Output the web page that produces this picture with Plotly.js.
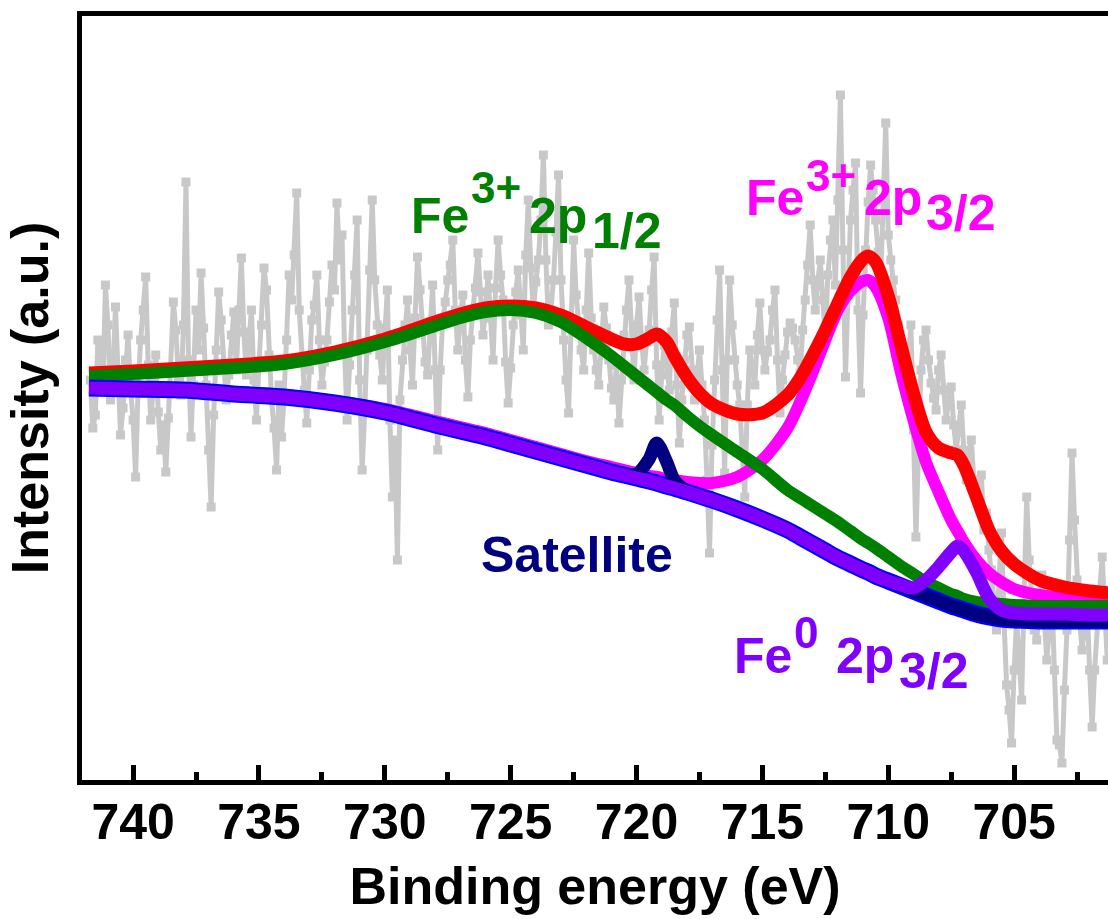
<!DOCTYPE html>
<html><head><meta charset="utf-8">
<script src="https://cdn.plot.ly/plotly-3.0.1.min.js"></script>
<style>html,body{margin:0;padding:0;background:#fff;} #chart{width:1108px;height:919px;}</style>
</head><body><div id="chart"></div>
<script>
// Raw XPS spectrum (Fe 2p), uniformly sampled every 0.1 eV, arbitrary intensity units
const rawStart = 741.7;
const rawStep = -0.1;
const rawIntensity = [
 400,352,365,440,430,388,495,455,380,410,473,398,345,372,420,445,390,360,303,395,
 440,470,503,415,360,392,425,368,330,355,308,362,410,478,450,402,385,455,598,420,
 343,395,470,430,507,452,395,330,273,365,430,488,460,412,380,405,445,468,410,470,
 522,448,405,438,470,400,360,415,455,512,490,425,380,352,310,395,343,385,440,505,
 480,525,587,470,420,390,357,410,460,475,505,440,395,418,440,478,515,490,577,520,
 545,430,360,415,470,505,560,400,310,368,430,510,580,500,455,425,400,452,490,360,
 283,340,220,380,420,455,480,430,395,462,523,490,450,418,405,458,495,410,330,410,
 460,478,500,515,540,470,430,462,485,420,383,440,470,492,527,488,445,470,505,462,
 420,492,540,505,480,418,377,412,455,488,510,465,430,525,580,512,470,498,520,560,
 625,520,455,470,500,548,605,500,440,400,367,458,540,485,450,430,410,470,527,462,
 430,410,395,440,473,452,420,392,380,415,357,400,445,470,500,438,400,455,483,440,
 410,438,450,490,523,415,360,405,435,420,390,448,477,395,337,380,420,445,453,410,
 380,402,430,395,360,300,227,335,400,460,510,410,307,420,500,455,420,395,375,330,
 283,375,430,410,395,445,477,430,410,428,440,470,490,420,367,400,425,448,457,452,
 440,420,407,450,480,515,555,500,470,498,520,480,445,505,540,560,495,580,685,530,
 403,485,560,590,617,470,387,465,530,578,615,590,560,528,500,580,657,545,520,500,
 480,455,430,405,390,420,455,350,243,330,410,440,450,420,397,382,370,410,425,390,
 360,380,393,355,330,352,375,330,300,322,340,300,280,292,305,250,267,230,210,180,
 150,200,247,160,95,70,37,110,160,120,80,190,283,220,175,150,140,170,205,160,
 120,150,185,110,40,35,17,90,150,240,327,260,200,160,130,150,175,110,53,110,
 160,190,223,170,120
];

// Fitted components (binding energy in eV)
const fitEnergy = [741.75,740,738,736,734,732,730,728,727,726,725,724,723,722,721,720.5,720,719.5,719.2,718.8,718.5,718,717.5,717,716,715,714,713.5,713,712.5,712,711.5,711,710.8,710.5,710,709.5,709,708.5,708,707.5,707.25,707,706.5,706,705.5,705,704,703,702,701.2];
const envelopeFit = [407,409,412,415,419,428,441,458,466,472,474,472,465,453,441,436,436,442,446,438,424,403,387,376,366,367,385,402,425,450,477,503,521,524,518,484,435,387,348,332,327,325,315,283,250,229,216,200,193,189,187];
const fe3p12Fit = [404,406,409,412,416,425,438,454,462,468,470,467,458,442,424,414,404,394,388,380,375,364,354,345,328,311,290,282,274,266,258,249,240,237,232,223,214,206,198,192,186,184,181,178,177,176,175,174,174,174,174];
const fe3p32Fit = [393,392,391,388,385,379,371,359,353,347,340,333,326,319,313,310,307,304,303,301,300,298,297,297,303,320,352,378,408,440,470,489,499,500,493,462,408,360,318,288,260,249,238,220,207,198,191,185,182,181,180];
const satelliteFit = [392,391,390,386,383,377,368,355,349,343,336,329,322,315,308,305,306,321,337,318,300,289,284,280,271,261,250,243,236,229,222,216,210,208,204,199,194,189,184,179,174,172,170,166,163,161,160,159,159,159,159];
const fe0p32Fit = [392,391,390,386,383,377,368,355,349,343,336,329,322,315,308,305,302,299,297,294,292,288,284,280,271,261,250,243,236,229,222,216,210,208,204,199,195,192,200,213,228,234,229,208,182,170,167,166,166,165,165];
const backgroundFit = [392,391,390,386,383,377,368,355,349,343,336,329,322,315,308,305,302,299,297,294,292,288,284,280,271,261,250,243,236,229,222,216,210,208,204,199,194,189,184,179,174,172,170,166,163,161,160,159,159,159,159];

const xTickLabels = ['740','735','730','725','720','715','710','705'];
const xTickValues = [740,735,730,725,720,715,710,705];

const FONT = 'Liberation Sans, Arial, Helvetica, sans-serif';

function fitTrace(y, color, width) {
  return {x: fitEnergy, y: y, type: 'scatter', mode: 'lines',
    line: {color: color, width: width, shape: 'spline', smoothing: 0.8},
    hoverinfo: 'skip', showlegend: false};
}

const traces = [
  {x0: rawStart, dx: rawStep, y: rawIntensity, type: 'scatter', mode: 'lines+markers',
   line: {color: '#c8c8c8', width: 5},
   marker: {symbol: 'square', size: 9, color: '#c8c8c8'},
   hoverinfo: 'skip', showlegend: false},
  fitTrace(fe3p32Fit, '#ff00ff', 12),
  fitTrace(envelopeFit, '#ff0000', 13),
  fitTrace(fe3p12Fit, '#008000', 12),
  fitTrace(backgroundFit, '#0000ff', 17),
  fitTrace(satelliteFit, '#000080', 13),
  fitTrace(fe0p32Fit, '#8000ff', 13)
];

function lab(text, x, y, size, color) {
  return {text: text, x: x, y: y, xref: 'x', yref: 'y', xanchor: 'left', yanchor: 'middle',
    showarrow: false, font: {family: FONT, size: size, color: color, weight: 'bold'}};
}

const annotations = [
  lab('Fe', 729.04, 564, 50, '#008000'),
  lab('3+', 726.65, 593, 44, '#008000'),
  lab('2p', 724.35, 564, 50, '#008000'),
  lab('1/2', 721.85, 549, 50, '#008000'),
  lab('Fe', 715.73, 582, 50, '#ff00ff'),
  lab('3+', 713.34, 605, 44, '#ff00ff'),
  lab('2p', 711.04, 582, 50, '#ff00ff'),
  lab('3/2', 708.58, 567, 50, '#ff00ff'),
  lab('Satellite', 726.26, 225, 50, '#000080'),
  lab('Fe', 716.21, 124, 50, '#8000ff'),
  lab('0', 713.82, 148, 44, '#8000ff'),
  lab('2p', 712.15, 124, 50, '#8000ff'),
  lab('3/2', 709.65, 109, 50, '#8000ff')
];

const layout = {
  width: 1108, height: 919,
  margin: {l: 82, r: 0, t: 16, b: 139},
  paper_bgcolor: '#ffffff', plot_bgcolor: '#ffffff',
  font: {family: FONT, color: '#000'},
  xaxis: {
    range: [742.03, 701.27],
    tickmode: 'array', tickvals: xTickValues, ticktext: xTickLabels,
    ticks: 'inside', ticklen: 15, tickwidth: 5, tickcolor: '#000',
    ticklabelstandoff: -6,
    minor: {ticks: 'inside', ticklen: 8, tickwidth: 5, tickcolor: '#000', tickmode: 'linear', tick0: 702.5, dtick: 5},
    showline: true, linewidth: 5, linecolor: '#000', mirror: true,
    showgrid: false, zeroline: false,
    tickfont: {family: FONT, size: 50, color: '#000', weight: 'bold'},
    title: {text: 'Binding energy (eV)', font: {family: FONT, size: 52, color: '#000', weight: 'bold'}, standoff: 20}
  },
  yaxis: {
    range: [0, 764],
    showline: true, linewidth: 5, linecolor: '#000',
    ticks: '', showticklabels: false, showgrid: false, zeroline: false,
    title: {text: 'Intensity (a.u.)', font: {family: FONT, size: 52, color: '#000', weight: 'bold'}, standoff: 13}
  },
  annotations: annotations
};

Plotly.newPlot('chart', traces, layout, {staticPlot: true, displayModeBar: false});
</script>
</body></html>
